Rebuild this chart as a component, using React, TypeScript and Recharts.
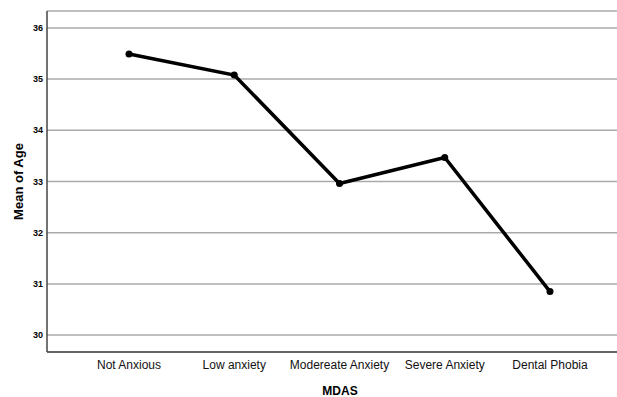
import { CartesianGrid, Label, Line, LineChart, XAxis, YAxis } from "recharts";

const categories = ["Not Anxious", "Low anxiety", "Modereate Anxiety", "Severe Anxiety", "Dental Phobia"];
const meanAge = [35.49, 35.08, 32.96, 33.47, 30.85];
const yTicks = [30, 31, 32, 33, 34, 35, 36];

const data = categories.map((name, i) => ({ name, age: meanAge[i] }));

const font = "'Liberation Sans', Arial, sans-serif";

export default function App() {
  return (
    <div style={{ position: "absolute", left: 0, top: 0, background: "#fff" }}>
      <LineChart width={617} height={397} data={data} margin={{ top: 11, right: 0, bottom: 0, left: 0 }}>
        <CartesianGrid vertical={false} stroke="#aaa" strokeWidth={1.5} />
        <XAxis
          dataKey="name"
          height={45}
          padding={{ left: 82, right: 67 }}
          axisLine={{ stroke: "#444", strokeWidth: 1.5 }}
          tickLine={false}
          tickSize={0}
          tickMargin={8}
          tick={{ fontSize: 12, fill: "#111", fontFamily: font }}
        >
          <Label
            value="MDAS"
            position="insideBottom"
            offset={2}
            dx={8}
            style={{ fontSize: 12, fontWeight: "bold", fill: "#000", fontFamily: font }}
          />
        </XAxis>
        <YAxis
          width={47}
          domain={[29.67, 36.33]}
          ticks={yTicks}
          axisLine={{ stroke: "#444", strokeWidth: 1.5 }}
          tickLine={false}
          tickSize={0}
          tickMargin={4}
          tick={{ fontSize: 9, fontWeight: "bold", fill: "#000", fontFamily: font }}
        >
          <Label
            content={({ viewBox }: any) => {
              const cx = viewBox.x + 18;
              const cy = viewBox.y + viewBox.height / 2;
              return (
                <text
                  x={cx}
                  y={cy}
                  transform={`rotate(-90, ${cx}, ${cy})`}
                  textAnchor="middle"
                  dominantBaseline="central"
                  style={{ fontSize: 13, fontWeight: "bold", fill: "#000", fontFamily: font }}
                >
                  Mean of Age
                </text>
              );
            }}
          />
        </YAxis>
        <Line
          dataKey="age"
          type="linear"
          stroke="#000"
          strokeWidth={3.5}
          dot={{ r: 3.5, fill: "#000", stroke: "#000", strokeWidth: 0 }}
          activeDot={false}
          isAnimationActive={false}
        />
      </LineChart>
    </div>
  );
}
